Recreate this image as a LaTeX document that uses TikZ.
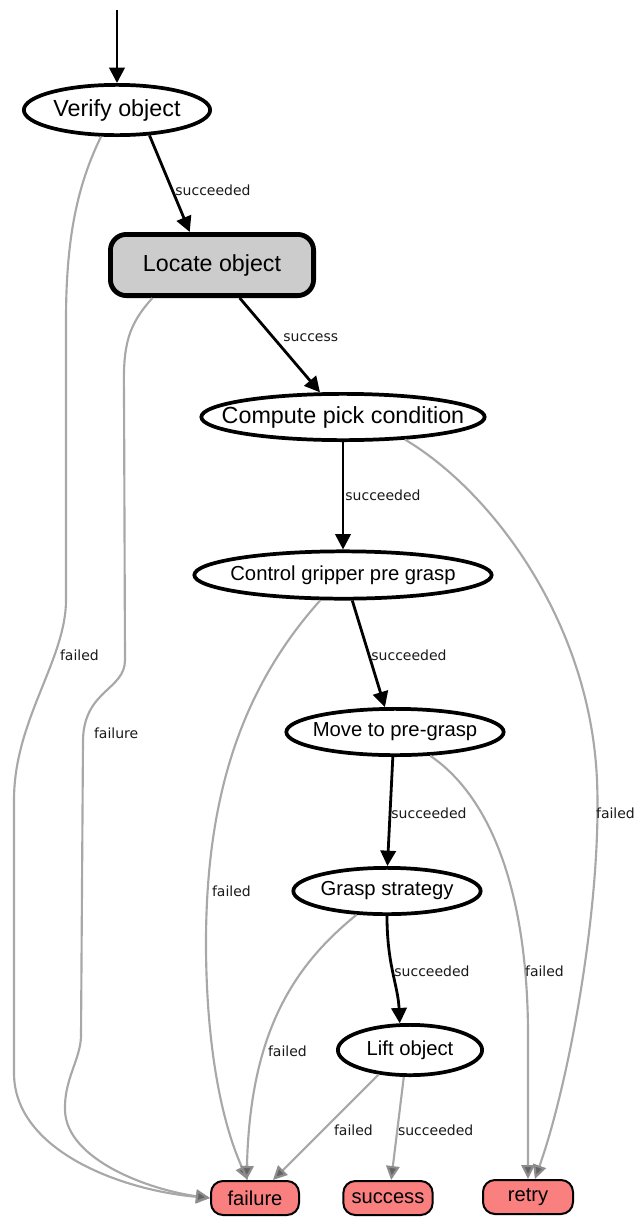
\documentclass[tikz,border=0pt]{standalone}
\usepackage{fontspec}
\setmainfont{Liberation Sans}
\newfontfamily\lblfont{DejaVu Sans}
\usetikzlibrary{shapes.geometric,arrows.meta}

\definecolor{termfill}{RGB}{250,128,128}
\definecolor{activefill}{RGB}{204,204,204}
\definecolor{failline}{RGB}{168,168,168}
\definecolor{failtip}{RGB}{100,100,100}

% zero-width text box so the ellipse size comes from minimum width/height only
\newcommand\ztext[1]{\makebox[0pt]{#1}}

\begin{document}
\begin{tikzpicture}[x=0.75pt,y=-0.75pt,
  state/.style={ellipse, draw, line width=2.8pt, fill=white, inner sep=0pt,
    font=\fontsize{15.2}{18}\selectfont},
  big/.style={font=\fontsize{17.5}{20}\selectfont},
  active/.style={rectangle, rounded corners=12pt, draw, line width=3.6pt,
    fill=activefill, inner sep=0pt, minimum width=152.4pt, minimum height=45.9pt,
    font=\fontsize{17.4}{20}\selectfont},
  outcome/.style={rectangle, rounded corners=9pt, draw, line width=1.5pt,
    fill=termfill, inner sep=0pt, minimum height=25.5pt,
    font=\fontsize{15.1}{18}\selectfont},
  go/.style={line width=2.1pt, -{Triangle[length=11.5pt,width=11.5pt]}},
  fail/.style={line width=1.6pt, draw=failline,
    -{Triangle[length=10.5pt,width=10pt,fill=failtip,color=failline!60!failtip]}},
  lbl/.style={anchor=west, inner sep=0pt, text=black!90,
    font=\lblfont\fontsize{10.5}{12}\selectfont}
]
\useasboundingbox (0,0) rectangle (637,1225);

% states
\node[state, big, minimum width=139.7pt, minimum height=37.7pt] (verify) at (117,110) {\ztext{Verify object}};
\node[active] (locate) at (212,265) {Locate object};
\node[state, big, minimum width=212.5pt, minimum height=34.7pt] (compute) at (343,417) {\ztext{Compute pick condition}};
\node[state, minimum width=223pt, minimum height=35.5pt] (control) at (343,575) {\ztext{Control gripper pre grasp}};
\node[state, minimum width=163pt, minimum height=34.7pt] (move) at (395,732) {\ztext{Move to pre-grasp}};
\node[state, minimum width=140.5pt, minimum height=34.7pt] (grasp) at (387,891) {\ztext{Grasp strategy}};
\node[state, minimum width=108.2pt, minimum height=37.7pt] (lift) at (410,1050) {\ztext{Lift object}};

% outcomes
\node[outcome, minimum width=66pt] (failure) at (255,1198) {failure};
\node[outcome, minimum width=67pt] (success) at (388,1198) {success};
\node[outcome, minimum width=67.5pt] (retry) at (528,1197) {retry};

% entry
\coordinate (start) at (117,10);
\draw[go] (start) -- (verify.north);

% success chain
\draw[go] (verify.-38) -- (locate.124) node[lbl] at (174,190) {succeeded};
\draw[go] (locate.-50) -- (compute.133) node[lbl] at (282,338) {success};
\draw[go] (compute.south) -- (control.north) node[lbl] at (344,495) {succeeded};
\draw[go] (control.-70) -- (move.112) node[lbl] at (370,655) {succeeded};
\draw[go] (move.-95) -- (grasp.89) node[lbl] at (390,813) {succeeded};
\draw[go] (grasp.south) .. controls (387,965) and (398,985) .. (lift.111)
  node[lbl] at (393,971) {succeeded};
\draw[fail] (lift.-103) -- (success.80) node[lbl] at (397,1130) {succeeded};

% failure branches
\draw[fail] (verify.-121) .. controls (80,180) and (66,230) .. (66,320)
  -- (66,600) .. controls (66,660) and (14,720) .. (14,800)
  -- (14,1073) .. controls (14,1150) and (120,1190) .. (failure.west)
  node[lbl] at (59,655) {failed};
\draw[fail] (locate.-151) .. controls (128,325) and (123,345) .. (124,390)
  -- (125,660) .. controls (125,690) and (84,690) .. (83,740)
  -- (81,1037) .. controls (80,1060) and (64,1080) .. (65,1110)
  .. controls (66,1160) and (150,1190) .. (failure.west)
  node[lbl] at (93,733) {failure};
\draw[fail] (control.-132) .. controls (240,690) and (205,800) .. (206,950)
  .. controls (207,1060) and (225,1130) .. (failure.112)
  node[lbl] at (211,891) {failed};
\draw[fail] (grasp.-142) .. controls (288,970) and (250,1040) .. (failure.115)
  node[lbl] at (267,1051) {failed};
\draw[fail] (lift.-142) -- (failure.45) node[lbl] at (333,1130) {failed};

% retry branches
\draw[fail] (compute.-20) .. controls (490,490) and (590,620) .. (597,780)
  .. controls (602,900) and (570,1080) .. (retry.69)
  node[lbl] at (595,813) {failed};
\draw[fail] (move.-34) .. controls (495,800) and (527,900) .. (528,1030)
  -- (retry.north) node[lbl] at (524,971) {failed};
\end{tikzpicture}
\end{document}
